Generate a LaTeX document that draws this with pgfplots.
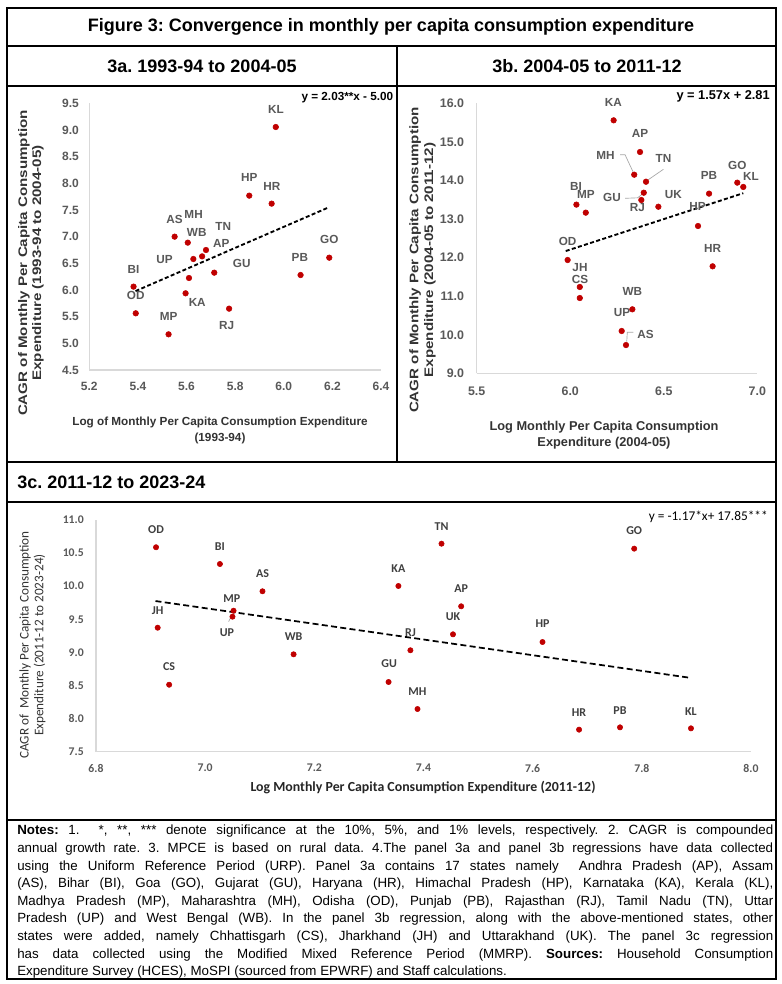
\documentclass[border=0pt]{standalone}
\usepackage{fontspec}
\setmainfont{Liberation Sans}
\newfontfamily\tallfont{Liberation Sans}[FakeStretch=1.22]
\newfontfamily\calfont{Carlito}
\usepackage{pgfplots}
\pgfplotsset{compat=1.18}
\frenchspacing

\definecolor{dotred}{HTML}{C00000}
\definecolor{lblgray}{HTML}{595959}
\definecolor{axgray}{HTML}{D9D9D9}

\pgfplotsset{
  panel/.style={
    scale only axis, clip=false, anchor=south west,
    axis x line*=bottom, axis y line*=left,
    axis line style={-, axgray, line width=1pt},
    major tick length=0pt,
    /pgf/number format/assume math mode=true,
    tick label style={text=lblgray, inner sep=0pt,
      /pgf/number format/fixed, /pgf/number format/fixed zerofill,
      /pgf/number format/precision=1},
  },
  dots/.style={only marks, mark=*, mark size=2.1pt,
    mark options={draw=dotred, fill=dotred}},
}
\tikzset{
  lbl/.style={font=\bfseries\fontsize{8.8}{10}\selectfont, text=lblgray, inner sep=0pt},
  lblc/.style={font=\calfont\bfseries\fontsize{9}{10}\selectfont, text=black!75, inner sep=0pt},
  lead/.style={draw=gray!70, line width=0.5pt},
}

\begin{document}
\begin{tikzpicture}[x=0.75pt, y=-0.75pt]
\useasboundingbox (0,0) rectangle (781,984);
\fill[white] (0,0) rectangle (781,984);

% frame of the figure table
\begin{scope}[line width=0.9pt]
\draw (7,8) rectangle (776,979);
\draw (7,46) -- (776,46);
\draw (7,86) -- (776,86);
\draw (7,462) -- (776,462);
\draw (7,502) -- (776,502);
\draw (7,820) -- (776,820);
\draw (397,46) -- (397,462);
\end{scope}

\node[font=\bfseries\fontsize{13.5}{16}\selectfont] at (391,27)
  {Figure 3: Convergence in monthly per capita consumption expenditure};
\node[font=\bfseries\fontsize{13.5}{16}\selectfont] at (202,66.5) {3a. 1993-94 to 2004-05};
\node[font=\bfseries\fontsize{13.5}{16}\selectfont] at (587,66.5) {3b. 2004-05 to 2011-12};
\node[font=\bfseries\fontsize{13.5}{16}\selectfont, anchor=west, inner sep=0pt] at (17,482)
  {3c. 2011-12 to 2023-24};

% ---------- panel 3a  (origin at px 89.3,370)
\begin{axis}[panel, at={(66.98pt,-277.5pt)}, width=218.8pt, height=200pt,
  xmin=5.2, xmax=6.4, ymin=4.5, ymax=9.5,
  xtick={5.2,5.4,5.6,5.8,6.0,6.2,6.4},
  ytick={4.5,5,5.5,6,6.5,7,7.5,8,8.5,9,9.5},
  tick label style={font=\bfseries\fontsize{9}{10}\selectfont},
  xticklabel style={anchor=north, yshift=-8.7pt},
  yticklabel style={anchor=east, xshift=-7.7pt}]
\addplot[dots] coordinates {
  (5.967,9.056) (5.858,7.769) (5.950,7.619) (5.551,7.000) (5.605,6.888)
  (5.628,6.581) (5.664,6.631) (5.680,6.750) (5.714,6.325) (5.610,6.225)
  (5.596,5.938) (5.382,6.063) (5.391,5.563) (5.526,5.169) (5.775,5.650)
  (6.069,6.281) (6.187,6.606)};
\addplot[no marks, black, line width=1.4pt, dash pattern=on 3pt off 1.8pt]
  coordinates {(5.39,5.98) (6.18,7.54)};
\node[lbl] at (5.968,9.39) {KL};
\node[lbl] at (5.858,8.106) {HP};
\node[lbl] at (5.951,7.944) {HR};
\node[lbl] at (5.551,7.331) {AS};
\node[lbl] at (5.629,7.425) {MH};
\node[lbl] at (5.642,7.081) {WB};
\node[lbl] at (5.751,7.2) {TN};
\node[lbl] at (5.743,6.869) {AP};
\node[lbl] at (5.509,6.563) {UP};
\node[lbl] at (5.827,6.506) {GU};
\node[lbl] at (5.382,6.394) {BI};
\node[lbl] at (5.391,5.906) {OD};
\node[lbl] at (5.644,5.769) {KA};
\node[lbl] at (5.526,5.5) {MP};
\node[lbl] at (5.765,5.325) {RJ};
\node[lbl] at (6.066,6.619) {PB};
\node[lbl] at (6.187,6.95) {GO};
\end{axis}
\node[anchor=east, inner sep=0pt, font=\bfseries\fontsize{8.8}{10}\selectfont] at (393.5,97.3)
  {y = 2.03**x - 5.00};
\node[rotate=90, align=center, text=black!80, font=\tallfont\bfseries\fontsize{9.3}{10.5}\selectfont]
  at (31,263) {CAGR of Monthly Per Capita Consumption\\Expenditure (1993-94 to 2004-05)};
\node[align=center, text=black!80, font=\bfseries\fontsize{8.8}{12}\selectfont]
  at (220,430) {Log of Monthly Per Capita Consumption Expenditure\\(1993-94)};

% ---------- panel 3b  (origin at px 476.7,373.3)
\begin{axis}[panel, at={(357.53pt,-279.98pt)}, width=210.45pt, height=202.5pt,
  xmin=5.5, xmax=7.0, ymin=9, ymax=16,
  xtick={5.5,6,6.5,7}, ytick={9,10,11,12,13,14,15,16},
  tick label style={font=\bfseries\fontsize{9.3}{10}\selectfont},
  xticklabel style={anchor=north, yshift=-9.9pt},
  yticklabel style={anchor=east, xshift=-9.3pt}]
\addplot[dots] coordinates {
  (6.232,15.559) (6.373,14.738) (6.342,14.149) (6.405,13.967) (6.393,13.682)
  (6.380,13.493) (6.471,13.319) (6.033,13.373) (6.083,13.165) (6.742,13.658)
  (6.893,13.943) (6.925,13.831) (6.683,12.819) (6.761,11.774) (5.986,11.938)
  (6.051,11.238) (6.051,10.952) (6.332,10.659) (6.275,10.097) (6.298,9.733)};
\addplot[no marks, black, line width=1.4pt, dash pattern=on 3pt off 1.8pt]
  coordinates {(5.976,12.17) (6.925,13.67)};
\draw[lead] (6.266,14.667) -- (6.293,14.667) -- (6.341,14.167);
\draw[lead] (6.498,14.289) -- (6.405,13.978);
\draw[lead] (6.293,13.537) -- (6.36,13.55) -- (6.391,13.667);
\draw[lead] (6.337,10.063) -- (6.305,10.063) -- (6.302,9.819);
\node[lbl] at (6.230,16.035) {KA};
\node[lbl] at (6.373,15.222) {AP};
\node[lbl] at (6.188,14.66) {MH};
\node[lbl] at (6.498,14.565) {TN};
\node[lbl] at (6.223,13.554) {GU};
\node[lbl] at (6.359,13.295) {RJ};
\node[lbl] at (6.551,13.623) {UK};
\node[lbl] at (6.031,13.856) {BI};
\node[lbl] at (6.084,13.649) {MP};
\node[lbl] at (6.742,14.142) {PB};
\node[lbl] at (6.893,14.401) {GO};
\node[lbl] at (6.966,14.099) {KL};
\node[lbl] at (6.681,13.321) {HP};
\node[lbl] at (6.761,12.232) {HR};
\node[lbl] at (5.986,12.422) {OD};
\node[lbl] at (6.052,11.730) {JH};
\node[lbl] at (6.052,11.428) {CS};
\node[lbl] at (6.332,11.125) {WB};
\node[lbl] at (6.277,10.581) {UP};
\node[lbl] at (6.403,10.01) {AS};
\end{axis}
\node[anchor=east, inner sep=0pt, font=\bfseries\fontsize{9.6}{11}\selectfont] at (770,96.7)
  {y = 1.57x + 2.81};
\node[rotate=90, align=center, text=black!80, font=\tallfont\bfseries\fontsize{9.3}{11}\selectfont]
  at (422.5,260) {CAGR of Monthly Per Capita Consumption\\Expenditure (2004-05 to 2011-12)};
\node[align=center, text=black!80, font=\bfseries\fontsize{9.6}{12}\selectfont]
  at (604,435) {Log Monthly Per Capita Consumption\\Expenditure (2004-05)};

% ---------- panel 3c  (origin at px 96,751.7)
\begin{axis}[panel, at={(72pt,-563.78pt)}, width=491.25pt, height=173.8pt,
  xmin=6.8, xmax=8.0, ymin=7.5, ymax=11,
  xtick={6.8,7.0,7.2,7.4,7.6,7.8,8.0},
  ytick={7.5,8,8.5,9,9.5,10,10.5,11},
  tick label style={font=\calfont\bfseries\fontsize{8.8}{10}\selectfont},
  xticklabel style={anchor=north, yshift=-9.2pt},
  yticklabel style={anchor=east, xshift=-9pt}]
\addplot[dots, mark size=2pt] coordinates {
  (6.910,10.588) (7.027,10.335) (7.105,9.923) (7.052,9.630) (7.050,9.540)
  (6.913,9.373) (7.162,8.971) (6.934,8.512) (7.336,8.553) (7.354,10.003)
  (7.433,10.642) (7.786,10.567) (7.469,9.696) (7.454,9.273) (7.376,9.032)
  (7.618,9.157) (7.389,8.145) (7.685,7.833) (7.760,7.868) (7.890,7.853)};
\addplot[no marks, black, line width=1.3pt, dash pattern=on 4.5pt off 2.5pt]
  coordinates {(6.909,9.776) (7.887,8.618)};
\draw[lead] (7.043,9.464) -- (7.049,9.564);
\node[lblc] at (6.910,10.849) {OD};
\node[lblc] at (7.027,10.603) {BI};
\node[lblc] at (7.105,10.184) {AS};
\node[lblc] at (7.049,9.807) {MP};
\node[lblc] at (7.040,9.304) {UP};
\node[lblc] at (6.913,9.63) {JH};
\node[lblc] at (7.162,9.233) {WB};
\node[lblc] at (6.934,8.779) {CS};
\node[lblc] at (7.337,8.825) {GU};
\node[lblc] at (7.354,10.26) {KA};
\node[lblc] at (7.433,10.9) {TN};
\node[lblc] at (7.786,10.844) {GO};
\node[lblc] at (7.469,9.962) {AP};
\node[lblc] at (7.454,9.54) {UK};
\node[lblc] at (7.376,9.293) {RJ};
\node[lblc] at (7.618,9.429) {HP};
\node[lblc] at (7.389,8.412) {MH};
\node[lblc] at (7.685,8.085) {HR};
\node[lblc] at (7.760,8.12) {PB};
\node[lblc] at (7.890,8.1) {KL};
\end{axis}
\node[anchor=east, inner sep=0pt, font=\calfont\fontsize{10}{12}\selectfont] at (768,516.7)
  {y = -1.17*x+ 17.85***};
\node[rotate=90, align=center, text=black!80, font=\calfont\fontsize{9.9}{11}\selectfont]
  at (32.5,645) {CAGR of\ \ Monthly Per Capita Consumption\\Expenditure (2011-12 to 2023-24)};
\node[text=black!85, font=\calfont\bfseries\fontsize{10.4}{12}\selectfont]
  at (423,788) {Log Monthly Per Capita Consumption Expenditure (2011-12)};

% ---------- notes
\node[anchor=north west, inner sep=0pt, text width=567pt, align=justify,
  font=\fontsize{10}{13.2}\selectfont] at (17,825) {\tolerance=10000\hbadness=10000
  \textbf{Notes:} 1.\ \ *, **, *** denote significance at the 10\%, 5\%, and 1\% levels, respectively. 2. CAGR is compounded\linebreak
  annual growth rate. 3. MPCE is based on rural data. 4.The panel 3a and panel 3b regressions have data collected\linebreak
  using the Uniform Reference Period (URP). Panel 3a contains 17 states namely\ \ Andhra Pradesh (AP), Assam\linebreak
  (AS), Bihar (BI), Goa (GO), Gujarat (GU), Haryana (HR), Himachal Pradesh (HP), Karnataka (KA), Kerala (KL),\linebreak
  Madhya Pradesh (MP), Maharashtra (MH), Odisha (OD), Punjab (PB), Rajasthan (RJ), Tamil Nadu (TN), Uttar\linebreak
  Pradesh (UP) and West Bengal (WB). In the panel 3b regression, along with the above-mentioned states, other\linebreak
  states were added, namely Chhattisgarh (CS), Jharkhand (JH) and Uttarakhand (UK). The panel 3c regression\linebreak
  has data collected using the Modified Mixed Reference Period (MMRP). \textbf{Sources:} Household Consumption\linebreak
  Expenditure Survey (HCES), MoSPI (sourced from EPWRF) and Staff calculations.};
\end{tikzpicture}
\end{document}
